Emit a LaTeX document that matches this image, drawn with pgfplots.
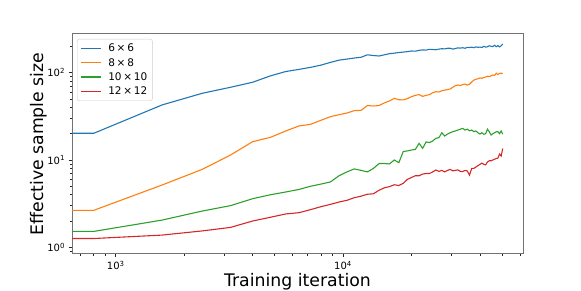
\documentclass[border=0pt]{standalone}
\usepackage{fontspec}
\setmainfont{DejaVu Sans}
\usepackage{pgfplots}
\usepackage{pgfplotstable}
\pgfplotsset{compat=1.18}
\definecolor{c1}{HTML}{1F77B4}
\definecolor{c2}{HTML}{FF7F0E}
\definecolor{c3}{HTML}{2CA02C}
\definecolor{c4}{HTML}{D62728}
\pgfplotstableread{
it a b c d
600 20.2 2.65 1.52 1.26
800 20.2 2.65 1.52 1.26
1600 42.7 5.17 2.05 1.38
2400 58 7.8 2.6 1.54
3200 68 11.4 3.0 1.69
4000 77.6 16.2 3.6 2.0
4800 92 18.2 4.0 2.21
5600 103 21.5 4.3 2.41
6400 109 24.5 4.6 2.49
7200 115 25.6 5.0 2.7
8000 122 28.5 5.3 2.92
8800 131 31.3 5.6 3.1
9600 139 33 6.6 3.3
10400 143 34.5 7.3 3.45
11200 147 36.7 7.9 3.7
12000 150 37 7.6 3.85
12800 160 42 7.3 4.05
13600 157 41.5 8.0 4.1
14400 155 42 9.1 4.5
15200 160 45 9.1 4.8
16000 165 47.4 9.0 4.95
16800 167 50.8 10.0 5.2
17600 170 49 9.3 5.1
18400 172 48.7 12.5 5.4
19200 174 50.5 12.7 6.0
20000 177 53 13 6.3
20800 176 55 13.2 6.6
21600 180 56 15.5 6.6
22400 182 53.5 13.6 6.9
23200 181 55 16.1 7.0
24000 185 56 15.8 7.0
24800 184 59 16.5 7.3
25600 183 60.5 17.7 7.68
26400 186 60 18 7.4
27200 188 62 20.5 7.6
28000 187 63 18.8 7.3
28800 190 64 19.8 7.6
29600 190 65 20.5 7.8
30400 186 68 21.1 7.5
31200 189 71 21.5 7.6
32000 192 72.3 22 7.7
32800 191 71 22.5 7.4
33600 193 73 23 7.35
34400 190 74 22 7.6
35200 195 72 22.5 7.5
36000 194 73.6 21.6 6.7
36800 196 78 22 8.0
37600 193 82 21.1 8.0
38400 197 84 21.5 8.3
39200 195 85 20.5 8.6
40000 196 87 19.8 8.9
40800 194 86 20.5 9.2
41600 200 88 19.7 8.9
42400 196 89 20 8.8
43200 198 91 22.5 9.5
44000 203 90 21 9.8
44800 200 92 19.3 9.8
45600 199 94 20 10.0
46400 206 93 20.5 10.2
47200 198 98.5 21 10.4
48000 204 95 21.1 10.5
48800 197 98 20 11.7
49600 203 98.5 21.5 11.1
50400 213 98 19.7 13.5
}\datatable
\begin{document}
\begin{tikzpicture}
\begin{axis}[
  scale only axis,
  width=451pt, height=220pt,
  xmode=log, ymode=log,
  xmin=642, xmax=61900,
  ymin=0.838, ymax=277,
  xtick={1000,10000},
  xticklabels={10\textsuperscript{3},10\textsuperscript{4}},
  minor xtick={700,800,900,2000,3000,4000,5000,6000,7000,8000,9000,20000,30000,40000,50000,60000},
  ytick={1,10,100},
  yticklabels={10\textsuperscript{0},10\textsuperscript{1},10\textsuperscript{2}},
  minor ytick={0.9,2,3,4,5,6,7,8,9,20,30,40,50,60,70,80,90,200},
  tick pos=left,
  tick align=outside,
  major tick length=3.5pt,
  minor tick length=2pt,
  tick style={black!85, line width=0.8pt},
  axis line style={black!55, line width=1pt},
  ticklabel style={font=\fontsize{10}{12}\selectfont},
  xlabel={Training iteration},
  ylabel={Effective sample size},
  label style={font=\fontsize{17.3}{20}\selectfont},
  xlabel style={at={(axis description cs:0.5,-0.1455)}, anchor=base},
  ylabel style={at={(axis description cs:-0.0643,0.5)}, anchor=base},
  legend style={at={(0,1)}, anchor=north west, xshift=5pt, yshift=-5pt,
    draw=black!20, rounded corners=2pt, fill=white,
    font=\fontsize{10.5}{12}\selectfont, row sep=0.8pt, inner sep=3pt,
    /tikz/every odd column/.append style={column sep=5pt}},
  legend cell align=left,
  legend image code/.code={\draw[#1] (0pt,0pt) -- (20pt,0pt);},
  every axis plot/.append style={line width=1.1pt},
]
\addplot[c1, no marks] table[x=it, y=a] {\datatable};
\addlegendentry{6\,×\,6}
\addplot[c2, no marks] table[x=it, y=b] {\datatable};
\addlegendentry{8\,×\,8}
\addplot[c3, no marks] table[x=it, y=c] {\datatable};
\addlegendentry{10\,×\,10}
\addplot[c4, no marks] table[x=it, y=d] {\datatable};
\addlegendentry{12\,×\,12}
\end{axis}
\pgfresetboundingbox
\path[use as bounding box] ([xshift=-72pt,yshift=-37pt]current axis.south west) rectangle ([xshift=58pt,yshift=34pt]current axis.north east);
\end{tikzpicture}
\end{document}
